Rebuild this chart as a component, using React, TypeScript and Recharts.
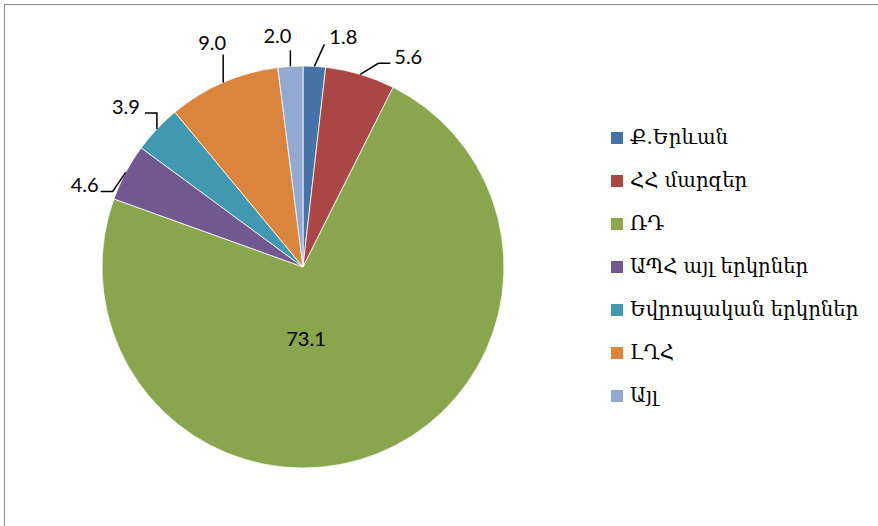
import { PieChart, Pie, Cell, Legend } from 'recharts';

const categories = ['Ք.Երևան', 'ՀՀ մարզեր', 'ՌԴ', 'ԱՊՀ այլ երկրներ', 'Եվրոպական երկրներ', 'ԼՂՀ', 'Այլ'];
const shares = [1.8, 5.6, 73.1, 4.6, 3.9, 9.0, 2.0];
const colors = ['#4572A7', '#AA4643', '#89A54E', '#71588F', '#4198AF', '#DB843D', '#93A9CF'];

const data = categories.map((name, i) => ({ name, value: shares[i] }));

// leader line shape per slice: elbow offset from arc point, then horizontal tail, then text offset
const leaders = [
    { ex: 10, ey: -22, tail: 0, tx: 5, ty: -8, anchor: 'start' },
    { ex: 18, ey: -11, tail: 12, tx: 4, ty: -7, anchor: 'start' },
    null,
    { ex: -13, ey: 19, tail: -12, tx: -2, ty: -7, anchor: 'end' },
    { ex: 0, ey: -16, tail: -12, tx: -5, ty: -7, anchor: 'end' },
    { ex: 0, ey: -28, tail: 0, tx: -11, ty: -13, anchor: 'middle' },
    { ex: 0, ey: -16, tail: 0, tx: -13, ty: -15, anchor: 'middle' },
];

const RAD = Math.PI / 180;
const labelFont = { fontFamily: 'Lato, sans-serif', fontSize: 20, fill: '#000' };

function renderLabel(props: any) {
    const { cx, cy, midAngle, outerRadius, index, value } = props;
    const lead = leaders[index];
    const text = Number(value).toFixed(1);
    if (!lead) {
        return (
            <text x={cx + 3} y={cy + 71} textAnchor="middle" dominantBaseline="central" {...labelFont}>
                {text}
            </text>
        );
    }
    const px = cx + outerRadius * Math.cos(-midAngle * RAD);
    const py = cy + outerRadius * Math.sin(-midAngle * RAD);
    const bx = px + lead.ex;
    const by = py + lead.ey;
    const tx = bx + lead.tail;
    return (
        <g>
            <polyline
                points={`${px},${py} ${bx},${by} ${tx},${by}`}
                fill="none"
                stroke="#000"
                strokeWidth={1.5}
            />
            <text
                x={tx + lead.tx}
                y={by + lead.ty}
                textAnchor={lead.anchor as any}
                dominantBaseline="central"
                {...labelFont}
            >
                {text}
            </text>
        </g>
    );
}

function LegendList() {
    return (
        <div style={{ fontFamily: '"DejaVu Serif", serif', fontSize: 19.7, color: '#000' }}>
            {categories.map((c, i) => (
                <div key={c} style={{ height: 43, display: 'flex', alignItems: 'center' }}>
                    <span
                        style={{
                            display: 'inline-block',
                            width: 12,
                            height: 12,
                            background: colors[i],
                            marginRight: 7,
                            flexShrink: 0,
                        }}
                    />
                    <span style={{ whiteSpace: 'nowrap' }}>{c}</span>
                </div>
            ))}
        </div>
    );
}

export default function App() {
    return (
        <div
            style={{
                position: 'absolute',
                left: 0,
                top: 0,
                width: 878,
                height: 526,
                overflow: 'hidden',
                background: '#fff',
            }}
        >
            <div
                style={{
                    position: 'absolute',
                    left: 4,
                    top: 4,
                    width: 900,
                    height: 560,
                    border: '1.5px solid #8a8a8a',
                }}
            />
            <PieChart width={878} height={526} margin={{ top: 0, right: 0, bottom: 0, left: 0 }}>
                <Pie
                    data={data}
                    dataKey="value"
                    nameKey="name"
                    cx={303}
                    cy={267}
                    outerRadius={201}
                    startAngle={90}
                    endAngle={-270}
                    stroke="#fff"
                    strokeWidth={0.8}
                    label={renderLabel}
                    labelLine={false}
                    isAnimationActive={false}
                >
                    {data.map((d, i) => (
                        <Cell key={d.name} fill={colors[i]} />
                    ))}
                </Pie>
                <Legend
                    layout="vertical"
                    align="right"
                    verticalAlign="top"
                    content={() => <LegendList />}
                    wrapperStyle={{ left: 611, top: 116, width: 265 }}
                />
            </PieChart>
        </div>
    );
}
